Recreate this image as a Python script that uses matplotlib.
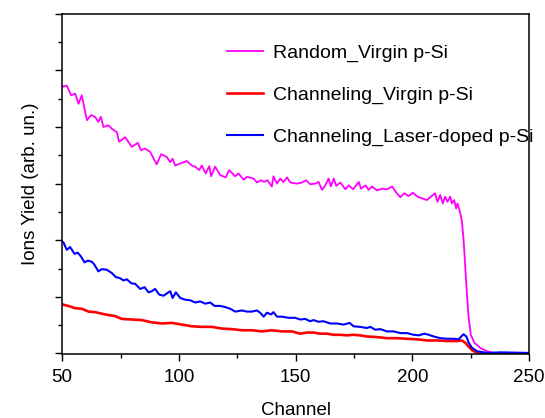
"""RBS spectra: random vs channeling yield for virgin and laser-doped p-Si."""

import matplotlib
matplotlib.use("Agg")

import matplotlib.pyplot as plt
from matplotlib.ticker import MultipleLocator, NullFormatter

plt.rcParams["font.family"] = ["Liberation Sans", "DejaVu Sans"]

# ── data (channel, yield in arb. units) ──

random_ch = [50, 50.6, 52, 53.9, 55.6, 57, 58.4, 60.6, 62.4, 64.1, 65.5, 66.6,
             67.7, 69.8, 71.3, 73.4, 74.4, 77, 79.8, 82.4, 83.8, 85.5, 87.7,
             90.5, 92.4, 94.8, 96.3, 97.3, 98.4, 100.2, 103.4, 105.5, 106.9,
             108.7, 109.8, 111.5, 113, 113.8, 115.5, 117.7, 120.1, 121.5,
             124.1, 125.5, 127.7, 129.1, 132, 133.4, 135.1, 136.5, 137.9,
             139.8, 140.5, 142, 143.4, 144.8, 146.3, 147.7, 150.5, 152.7,
             154.5, 156.2, 158.4, 159.8, 161.3, 162.7, 164.1, 165.1, 166.3,
             167.4, 169.1, 171.3, 172.7, 174.6, 177, 178, 179.9, 181.2, 182.7,
             184.8, 187, 189.1, 191.3, 193.1, 194.8, 196.5, 198.4, 200.2,
             202.2, 204.1, 206.2, 207.6, 209.7, 210.7, 211.9, 213, 214, 215,
             216.2, 216.9, 217.9, 218.7, 219.3, 220.5, 221.2, 221.9, 222.6,
             223.3, 224, 225, 226.5, 229, 231.9, 234.7, 250]
random_y = [4.70, 4.72, 4.73, 4.56, 4.59, 4.41, 4.56, 4.12, 4.21, 4.18, 4.09,
            4.18, 4.00, 4.03, 3.97, 3.91, 3.74, 3.82, 3.65, 3.72, 3.59, 3.62,
            3.56, 3.34, 3.52, 3.47, 3.38, 3.44, 3.32, 3.35, 3.40, 3.32, 3.30,
            3.24, 3.32, 3.18, 3.31, 3.13, 3.30, 3.15, 3.11, 3.24, 3.13, 3.18,
            3.07, 3.12, 3.09, 3.02, 3.06, 3.03, 3.06, 2.95, 3.13, 3.00, 3.09,
            3.03, 3.11, 3.02, 3.00, 3.02, 3.06, 2.99, 3.00, 3.03, 2.89, 2.97,
            3.09, 2.95, 3.09, 2.96, 3.02, 2.90, 2.97, 2.90, 3.03, 2.91, 2.97,
            2.89, 2.95, 2.88, 2.91, 2.90, 2.95, 2.84, 2.76, 2.83, 2.78, 2.84,
            2.77, 2.74, 2.71, 2.76, 2.83, 2.68, 2.80, 2.65, 2.77, 2.68, 2.77,
            2.65, 2.71, 2.56, 2.65, 2.48, 2.33, 2.01, 1.54, 1.07, 0.66, 0.33,
            0.19, 0.10, 0.04, 0.01, 0.0]

chan_virgin_ch = [50, 50.6, 52.7, 55.6, 58.4, 61.3, 64.1, 68.4, 72.7, 75.6,
                  79.8, 84.1, 88.4, 92.7, 97, 101.3, 105.6, 109.8, 114.1, 118.4,
                  122.7, 127, 131.3, 135.5, 139.8, 144.1, 148.4, 151.9, 154.8,
                  157.6, 160.5, 163.4, 166.2, 169.1, 171.9, 174.8, 177.6, 180.5,
                  184.8, 189.1, 193.4, 197.7, 202, 206.2, 210.5, 214.8, 219.1,
                  221.2, 222.6, 224.1, 225.5, 227.7, 231.9, 250]
chan_virgin_y = [0.87, 0.86, 0.84, 0.80, 0.79, 0.74, 0.73, 0.69, 0.66, 0.61,
                 0.60, 0.59, 0.55, 0.53, 0.54, 0.51, 0.48, 0.47, 0.47, 0.44,
                 0.43, 0.41, 0.41, 0.39, 0.41, 0.39, 0.39, 0.35, 0.37, 0.37,
                 0.35, 0.35, 0.33, 0.33, 0.32, 0.33, 0.32, 0.30, 0.29, 0.27,
                 0.27, 0.26, 0.25, 0.23, 0.23, 0.22, 0.22, 0.23, 0.19, 0.12,
                 0.06, 0.01, -0.01, -0.01]

chan_laser_ch = [50, 50.6, 52, 53.4, 55.3, 56.7, 58.1, 59.6, 61, 62.7, 63.8,
                 65.5, 67, 69.1, 71.3, 73, 74.8, 76.3, 77.7, 79.6, 81.3, 83.4,
                 85.3, 87, 88.4, 89.8, 91.6, 93.4, 94.8, 96.3, 97.3, 98.7,
                 100.6, 102.7, 104.8, 107, 109.1, 111.3, 113.4, 115.3, 117.7,
                 119.8, 122, 124.1, 127, 129.1, 131.3, 133.4, 134.8, 136.3,
                 137.7, 139.5, 140.5, 142, 144.1, 147, 149.8, 151.9, 154.1,
                 156.2, 157.6, 159.8, 161.9, 164.8, 167.6, 170.5, 173.1, 174.8,
                 177.6, 180.5, 181.9, 184.1, 186.3, 189.1, 192, 194.8, 197.7,
                 200.5, 202.7, 205.1, 207, 209.1, 212, 214.8, 217.7, 219.8,
                 220.9, 221.9, 223.1, 224.1, 225.5, 227.7, 231.9, 237.6, 250]
chan_laser_y = [1.98, 1.96, 1.83, 1.88, 1.76, 1.78, 1.71, 1.61, 1.64, 1.62,
                1.57, 1.45, 1.49, 1.48, 1.42, 1.35, 1.33, 1.29, 1.31, 1.24,
                1.23, 1.14, 1.17, 1.08, 1.10, 1.14, 1.04, 1.02, 1.06, 1.10,
                0.98, 1.08, 0.98, 0.95, 0.94, 0.90, 0.92, 0.88, 0.90, 0.84,
                0.84, 0.82, 0.79, 0.74, 0.76, 0.74, 0.74, 0.76, 0.72, 0.65,
                0.72, 0.69, 0.73, 0.65, 0.65, 0.63, 0.63, 0.60, 0.61, 0.57,
                0.59, 0.56, 0.57, 0.53, 0.53, 0.51, 0.54, 0.48, 0.47, 0.45,
                0.47, 0.42, 0.43, 0.39, 0.39, 0.36, 0.36, 0.33, 0.32, 0.35,
                0.33, 0.30, 0.27, 0.26, 0.26, 0.25, 0.30, 0.34, 0.30, 0.19,
                0.10, 0.04, 0.01, 0.02, 0.01]

fig = plt.figure(figsize=(5.45, 4.18), dpi=100)
ax = fig.add_axes([0.114, 0.153, 0.857, 0.814])

ax.plot(random_ch, random_y, color="#ff00ff", lw=1.3, label="Random_Virgin p-Si")
ax.plot(chan_virgin_ch, chan_virgin_y, color="#ff0000", lw=1.9,
        label="Channeling_Virgin p-Si")
ax.plot(chan_laser_ch, chan_laser_y, color="#0000ff", lw=1.5,
        label="Channeling_Laser-doped p-Si")

ax.set_xlim(50, 250)
ax.set_ylim(-0.01, 6)
ax.xaxis.set_major_locator(MultipleLocator(50))
ax.xaxis.set_minor_locator(MultipleLocator(25))
ax.yaxis.set_major_locator(MultipleLocator(1))
ax.yaxis.set_minor_locator(MultipleLocator(0.5))
ax.yaxis.set_major_formatter(NullFormatter())
ax.tick_params(which="both", direction="out", top=False, right=False, width=1)
ax.tick_params(which="major", length=5, labelsize=13.5, pad=6)
ax.tick_params(which="minor", length=3)
for sp in ax.spines.values():
    sp.set_linewidth(1.1)

ax.set_xlabel("Channel", fontsize=13.5, labelpad=11)
ax.set_ylabel("Ions Yield (arb. un.)", fontsize=13.5, labelpad=6)

ax.legend(loc="upper left", bbox_to_anchor=(0.353, 0.912), frameon=False,
          borderpad=0, borderaxespad=0, fontsize=14, handlelength=1.85,
          handletextpad=0.5, labelspacing=1.25)

fig.savefig("out.png", dpi=100)
